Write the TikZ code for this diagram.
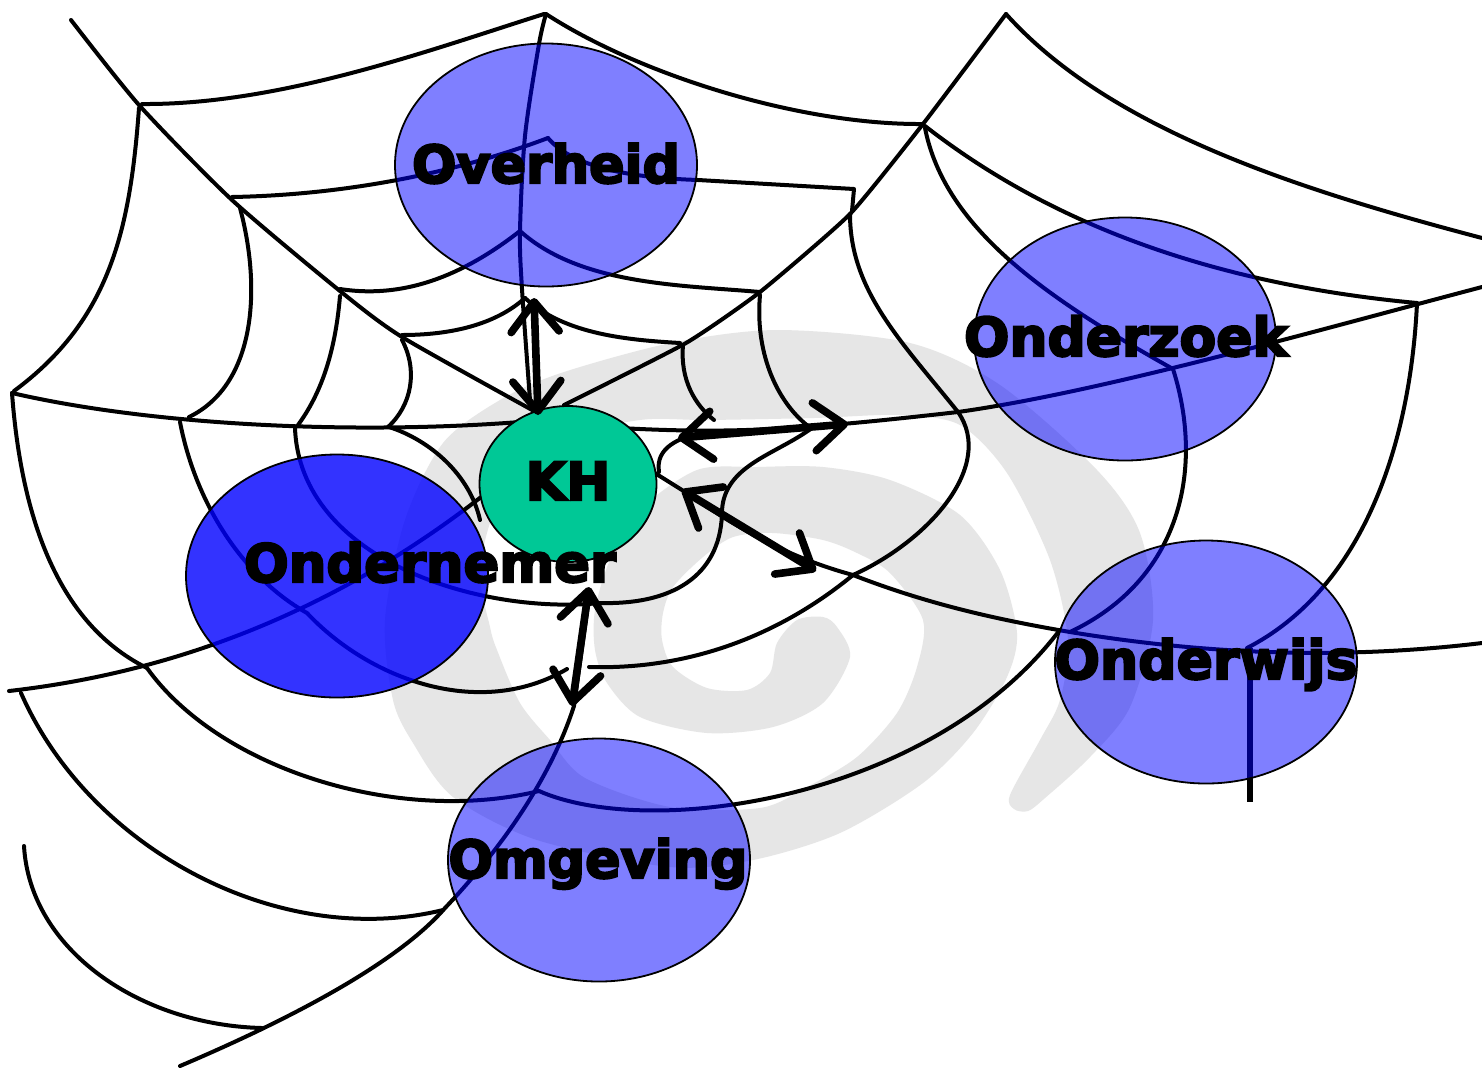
\documentclass[tikz,border=0pt]{standalone}
\usepackage{graphicx}
\usepackage{fontspec}
\usetikzlibrary{arrows.meta,shapes.geometric}
\newfontfamily\blackfont[FakeBold=4]{DejaVu Sans Bold}
\newlength{\lblw}
\newcommand{\lbl}[2]{\setlength{\lblw}{#2pt}\resizebox{.5\lblw}{!}{\blackfont #1}}
\definecolor{swirlgray}{HTML}{E6E6E6}
\definecolor{hubgreen}{HTML}{00C896}
\tikzset{
  web/.style={draw=black,line width=2pt,line cap=round,line join=round},
  blob/.style={ellipse,draw=black,line width=0.9pt,fill=blue,fill opacity=.5,draw opacity=1,minimum width=151pt,minimum height=121.5pt,inner sep=0pt},
  darkblob/.style={blob,fill opacity=.8},
  hub/.style={ellipse,draw=black,line width=0.9pt,fill=hubgreen,minimum width=88.5pt,minimum height=78pt,inner sep=0pt},
  txtlabel/.style={inner sep=0pt,anchor=base},
  linkarrow/.style={line width=3.8pt,black,{Straight Barb[length=15pt,width=24pt,line width=3.8pt,round]}-{Straight Barb[length=15pt,width=24pt,line width=3.8pt,round]}}
}
\begin{document}
\begin{tikzpicture}[x=.5pt,y=-.5pt]
\useasboundingbox (0,0) rectangle (1482,1067);
\fill[white] (0,0) rectangle (1482,1067);
% swirl
\fill[swirlgray] plot[smooth cycle,tension=.5] coordinates {(1010,795) (1040,740) (1060,700) (1068,640) (1050,560) (1007,473) (960,425) (900,415) (814,418) (707,420) (640,420) (560,440) (500,500) (480,570) (490,627) (497,650) (520,703) (550,740) (585,778) (670,807) (760,808) (807,787) (857,757) (897,713) (917,667) (923,620) (890,573) (857,553) (823,540) (773,533) (733,537) (703,557) (673,587) (663,613) (662,640) (673,667) (707,688) (747,690) (770,673) (777,643) (797,620) (823,617) (837,627) (850,657) (823,703) (773,727) (707,733) (640,717) (607,683) (595,650) (595,610) (610,560) (640,510) (697,470) (757,467) (823,467) (890,480) (960,515) (1000,570) (1017,633) (1007,677) (973,733) (923,783) (840,833) (753,860) (670,867) (537,840) (453,797) (413,743) (393,700) (385,620) (405,520) (443,443) (500,400) (561,373) (671,343) (778,330) (910,343) (1000,385) (1097,470) (1140,533) (1153,620) (1130,707) (1090,757) (1045,798) (1028,811) (1014,809)};
% radials
\draw[web] plot[smooth,tension=.4] coordinates {(71,20) (139,105) (232,200) (340,291) (402,337) (534,411)};
\draw[web] plot[smooth,tension=.5] coordinates {(546,14) (539,44) (525,136) (520,231) (522,289) (530,400)};
\draw[web] plot[smooth,tension=.3] coordinates {(1006,14) (923,124) (850,214) (760,292) (686,343) (564,405)};
\draw[web] (12,393) .. controls (150,425) and (350,435) .. (520,422);
\draw[web] (620,428) .. controls (730,434) and (800,430) .. (958,412) .. controls (1100,392) and (1300,335) .. (1482,287);
\draw[web] (650,470) -- (690,495) .. controls (740,530) and (790,558) .. (853,575) .. controls (930,605) and (1000,620) .. (1070,632) .. controls (1150,645) and (1300,665) .. (1482,643);
\draw[web,line width=3pt,line cap=butt] (1250,648) -- (1250,802);
\draw[web] (9,691) .. controls (150,675) and (320,625) .. (490,490);
\draw[web] (180,1066) .. controls (300,1015) and (400,960) .. (445,908) .. controls (500,850) and (550,780) .. (574,706) -- (590,590);
% arcs
\draw[web] (142,104) .. controls (280,105) and (430,50) .. (544,14);
\draw[web] (546,14) .. controls (640,75) and (800,125) .. (923,124);
\draw[web] (1006,14) .. controls (1110,130) and (1300,190) .. (1482,238);
\draw[web] (925,126) .. controls (1020,200) and (1170,280) .. (1417,303);
\draw[web] (925,128) .. controls (945,230) and (1050,300) .. (1173,369);
\draw[web] (1173,369) .. controls (1205,470) and (1180,580) .. (1070,632);
\draw[web] (1417,303) .. controls (1410,450) and (1360,590) .. (1247,648);
\draw[web] (850,214) .. controls (850,290) and (900,340) .. (958,412);
\draw[web] (958,412) .. controls (995,465) and (930,540) .. (853,575) .. controls (780,635) and (690,670) .. (589,667);
\draw[web] (760,295) .. controls (755,350) and (775,400) .. (808,426);
\draw[web] (812,428) .. controls (775,455) and (725,465) .. (722,510) .. controls (722,570) and (680,605) .. (600,603) .. controls (480,615) and (300,560) .. (295,428);
\draw[web] (683,345) .. controls (680,380) and (695,405) .. (714,420);
\draw[web] (700,433) .. controls (680,438) and (655,447) .. (659,472);
\draw[web] (232,197) .. controls (340,195) and (450,175) .. (548,138);
\draw[web] (548,138) .. controls (575,170) and (640,178) .. (698,180) -- (854,189) -- (852,211);
\draw[web] (340,289) .. controls (410,300) and (470,270) .. (520,231);
\draw[web] (520,231) .. controls (580,285) and (680,285) .. (760,292);
\draw[web] (402,335) .. controls (450,335) and (495,325) .. (525,298);
\draw[web] (525,298) .. controls (565,335) and (630,340) .. (680,343);
\draw[web] (139,108) .. controls (130,230) and (110,320) .. (14,391);
\draw[web] (240,208) .. controls (262,290) and (255,385) .. (189,417);
\draw[web] (340,296) .. controls (335,355) and (320,395) .. (298,425);
\draw[web] (402,340) .. controls (418,370) and (412,405) .. (388,427);
\draw[web] (12,393) .. controls (20,500) and (50,620) .. (147,668);
\draw[web] (147,668) .. controls (220,770) and (400,825) .. (539,791);
\draw[web] (539,791) .. controls (650,840) and (930,800) .. (1059,631);
\draw[web] (180,422) .. controls (195,500) and (240,575) .. (307,613) .. controls (370,680) and (480,720) .. (567,669);
\draw[web] (389,427) .. controls (430,440) and (470,475) .. (480,520);
\draw[web] (21,693) .. controls (90,850) and (280,950) .. (443,910);
\draw[web] (24,846) .. controls (30,950) and (140,1025) .. (262,1028);
% discs
\node[blob] (overheid) at (546,165) {};
\node[blob] (onderzoek) at (1125,339) {};
\node[blob] (onderwijs) at (1206,662) {};
\node[blob] (omgeving) at (599,860) {};
\node[darkblob] (ondernemer) at (337,576) {};
\node[hub] (kh) at (568,484) {};
% labels
\node[txtlabel] (tov) at (546,183) {\lbl{Overheid}{268}};
\node[txtlabel] (toz) at (1126,356) {\lbl{Onderzoek}{324}};
\node[txtlabel] (tow) at (1206,679) {\lbl{Onderwijs}{303}};
\node[txtlabel] (tom) at (598,878) {\lbl{Omgeving}{299}};
\node[txtlabel] (ton) at (430,582) {\lbl{Ondernemer}{372}};
\node[txtlabel] (tkh) at (568,500) {\lbl{KH}{85}};
% arrows
\coordinate (a1) at (534,298); \coordinate (a2) at (538,415);
\coordinate (b1) at (678,438); \coordinate (b2) at (848,424);
\coordinate (c1) at (682,490); \coordinate (c2) at (816,571);
\coordinate (d1) at (589,587); \coordinate (d2) at (572,706);
\draw[linkarrow] (a1) -- (a2);
\draw[linkarrow] (b1) -- (b2);
\draw[linkarrow] (c1) -- (c2);
\draw[linkarrow] (d1) -- (d2);
\end{tikzpicture}
\end{document}
